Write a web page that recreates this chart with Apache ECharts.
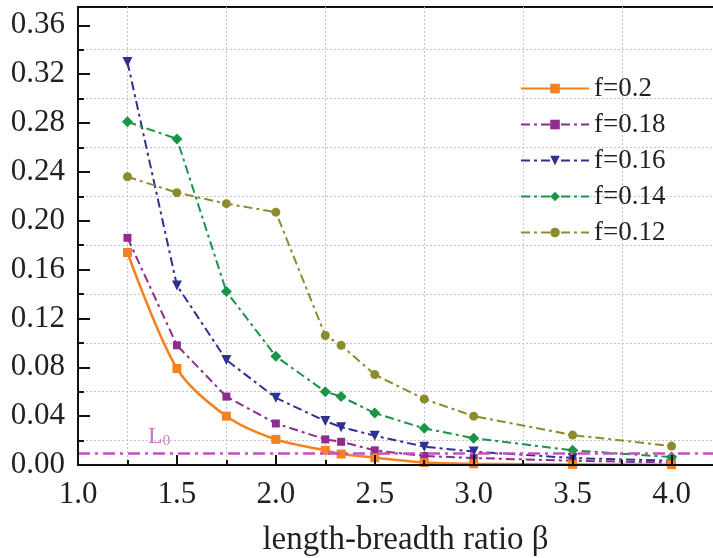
<!DOCTYPE html>
<html>
<head>
<meta charset="utf-8">
<script src="https://cdn.jsdelivr.net/npm/echarts@6/dist/echarts.min.js"></script>
<style>
html,body{margin:0;padding:0;background:#fff;}
#chart{width:713px;height:558px;}
</style>
</head>
<body>
<div id="chart"></div>
<script>
// ---- data ----
var beta = [1.25, 1.5, 1.75, 2.0, 2.25, 2.33, 2.5, 2.75, 3.0, 3.5, 4.0];
var f020 = [0.174, 0.079, 0.040, 0.021, 0.012, 0.009, 0.006, 0.002, 0.001, 0.0005, 0.0003];
var f018 = [0.186, 0.098, 0.056, 0.034, 0.021, 0.019, 0.012, 0.0074, 0.0057, 0.0035, 0.002];
var f016 = [0.330, 0.147, 0.086, 0.055, 0.036, 0.031, 0.024, 0.015, 0.011, 0.0057, 0.0035];
var f014 = [0.281, 0.267, 0.142, 0.089, 0.060, 0.056, 0.0425, 0.030, 0.022, 0.012, 0.0065];
var f012 = [0.236, 0.223, 0.214, 0.207, 0.106, 0.098, 0.074, 0.054, 0.040, 0.0245, 0.0155];
var seriesNames = ['f=0.2', 'f=0.18', 'f=0.16', 'f=0.14', 'f=0.12'];
var L0 = [0.009];
var xTicks = [1.0, 1.5, 2.0, 2.5, 3.0, 3.5, 4.0];
var xMinor = [1.25, 1.75, 2.25, 2.75, 3.25, 3.75];
var yTicks = [0.00, 0.04, 0.08, 0.12, 0.16, 0.20, 0.24, 0.28, 0.32, 0.36];
var yMinor = [0.02, 0.06, 0.10, 0.14, 0.18, 0.22, 0.26, 0.30, 0.34];

function pairs(vals) { return beta.map(function (b, i) { return [b, vals[i]]; }); }

var FONT = '"Liberation Serif", "DejaVu Serif", serif';
var TXT = '#231f20';
var dashDot = [9, 4, 3, 4];
var GRIDC = '#c4c4c4';

// plot box (grid 0)
var W = 713, H = 558;
var GL = 78, GT = 7, GR = -8, GB = 93;
var X0 = 1, X1 = 4.25, Y0 = 0, Y1 = 0.375;
var pxX = (W - GR - GL) / (X1 - X0);
var pxY = (H - GB - GT) / (Y1 - Y0);
// helper grids sharing the same scale, shifted by half an interval, so their
// regular ticks fall on the minor positions (used only for grid lines)
var HY0 = -0.02, HY1 = 0.38;
var VX0 = 0.75;

var chart = echarts.init(document.getElementById('chart'), null, {renderer: 'canvas'});

function mk(name, vals, color, symbol, size, opts) {
  var s = {
    name: name,
    type: 'line',
    data: pairs(vals),
    symbol: symbol,
    symbolSize: size,
    showSymbol: true,
    xAxisIndex: 0,
    yAxisIndex: 0,
    itemStyle: {color: color},
    lineStyle: {color: color, width: 2, type: dashDot},
    z: 3
  };
  if (opts) { for (var k in opts) s[k] = opts[k]; }
  return s;
}

var gridLineStyle = {color: GRIDC, type: [2, 2], width: 1};

var option = {
  animation: false,
  backgroundColor: '#fff',
  grid: [{
    left: GL, top: GT, right: GR, bottom: GB,
    show: true, borderColor: '#111', borderWidth: 2,
    containLabel: false, outerBoundsMode: 'none'
  }, {
    left: GL, right: GR,
    top: (H - GB) - (HY1 - Y0) * pxY,
    bottom: H - ((H - GB) + (Y0 - HY0) * pxY),
    containLabel: false, outerBoundsMode: 'none'
  }, {
    left: GL - (X0 - VX0) * pxX, right: GR, top: GT, bottom: GB,
    containLabel: false, outerBoundsMode: 'none'
  }],
  legend: {
    data: seriesNames,
    orient: 'vertical',
    left: 515, top: 70,
    itemWidth: 68, itemHeight: 12, itemGap: 9,
    textStyle: {fontFamily: FONT, fontSize: 27, color: TXT},
    backgroundColor: 'transparent'
  },
  xAxis: [{
    gridIndex: 0, type: 'value', min: X0, max: X1, interval: 0.5,
    position: 'bottom', z: 6,
    axisLine: {show: true, onZero: false, lineStyle: {color: '#111', width: 2}},
    axisTick: {show: true, inside: true, length: 10, customValues: xTicks, lineStyle: {color: '#111', width: 2}},
    axisLabel: {
      showMinLabel: true, showMaxLabel: true, margin: 14,
      fontFamily: FONT, fontSize: 31, color: TXT,
      customValues: xTicks,
      formatter: function (v) { return v.toFixed(1); }
    },
    splitLine: {show: false},
    name: 'length-breadth ratio β',
    nameLocation: 'middle', nameGap: 59,
    nameTextStyle: {fontFamily: FONT, fontSize: 33, color: TXT, padding: [0, 0, 0, 12]}
  }, {
    gridIndex: 0, type: 'value', min: X0, max: X1, interval: 0.25,
    position: 'bottom', z: 6,
    axisLine: {show: false, onZero: false},
    axisTick: {show: true, inside: true, length: 5, customValues: xMinor, lineStyle: {color: '#111', width: 2}},
    axisLabel: {show: false},
    splitLine: {show: false}
  }, {
    gridIndex: 1, type: 'value', min: X0, max: X1, show: false
  }, {
    gridIndex: 2, type: 'value', min: VX0, max: X1, interval: 0.5,
    axisLine: {show: false}, axisTick: {show: false}, axisLabel: {show: false},
    splitLine: {show: true, showMinLine: false, showMaxLine: false, lineStyle: gridLineStyle}
  }],
  yAxis: [{
    gridIndex: 0, type: 'value', min: Y0, max: Y1, interval: 0.04,
    position: 'left', z: 6,
    axisLine: {show: true, onZero: false, lineStyle: {color: '#111', width: 2}},
    axisTick: {show: true, inside: true, length: 12, customValues: yTicks, lineStyle: {color: '#111', width: 2}},
    axisLabel: {
      showMinLabel: true, showMaxLabel: true, margin: 13,
      fontFamily: FONT, fontSize: 31, color: TXT,
      customValues: yTicks,
      formatter: function (v) { return v.toFixed(2); }
    },
    splitLine: {show: false}
  }, {
    gridIndex: 0, type: 'value', min: Y0, max: Y1, interval: 0.02,
    position: 'left', offset: 0, z: 6,
    axisLine: {show: false, onZero: false},
    axisTick: {show: true, inside: true, length: 6, customValues: yMinor, lineStyle: {color: '#111', width: 2}},
    axisLabel: {show: false},
    splitLine: {show: false}
  }, {
    gridIndex: 1, type: 'value', min: HY0, max: HY1, interval: 0.04,
    axisLine: {show: false}, axisTick: {show: false}, axisLabel: {show: false},
    splitLine: {show: true, showMinLine: false, showMaxLine: false, lineStyle: gridLineStyle}
  }, {
    gridIndex: 2, type: 'value', min: Y0, max: Y1, show: false
  }],
  series: [
    mk('f=0.2', f020, '#f5821f', 'rect', 9, {smooth: 0.3, lineStyle: {color: '#f5821f', width: 2.5, type: 'solid'}, z: 4}),
    mk('f=0.18', f018, '#8e2d8e', 'rect', 8),
    mk('f=0.16', f016, '#2e3192', 'triangle', 10, {symbolRotate: 180}),
    mk('f=0.14', f014, '#1a9447', 'diamond', 11),
    mk('f=0.12', f012, '#8c8c2e', 'circle', 9),
    {
      name: 'L0', type: 'line', data: [], xAxisIndex: 0, yAxisIndex: 0, z: 5,
      markLine: {
        silent: true, symbol: ['none', 'none'],
        lineStyle: {color: '#c64fc6', width: 2.5, type: [12, 5, 3, 5]},
        label: {
          show: true, position: 'insideStartTop', distance: [70, 4],
          formatter: '{m|L}{s|0}',
          rich: {
            m: {fontFamily: FONT, fontSize: 24, color: '#c47cc4'},
            s: {fontFamily: FONT, fontSize: 15, color: '#c47cc4', padding: [10, 0, 0, 0]}
          }
        },
        data: [{yAxis: L0[0]}]
      }
    }
  ]
};
chart.setOption(option);
</script>
</body>
</html>
